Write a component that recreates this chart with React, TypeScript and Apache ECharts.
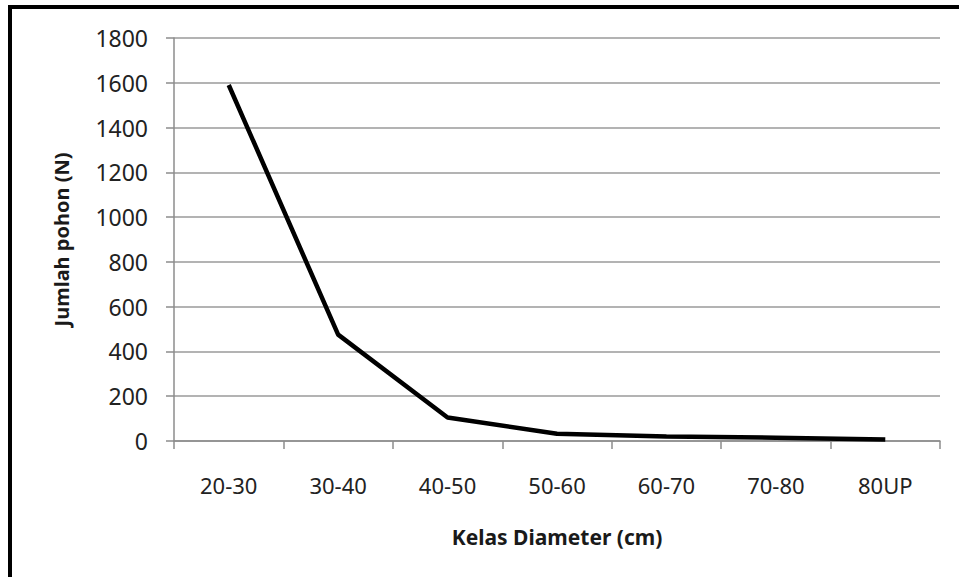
import React, { useEffect, useRef } from "react";
import * as echarts from "echarts";

const categories = ["20-30", "30-40", "40-50", "50-60", "60-70", "70-80", "80UP"];
const treeCounts = [1590, 475, 105, 32, 20, 15, 7];
const yTicks = { min: 0, max: 1800, interval: 200 };
const xTitle = "Kelas Diameter (cm)";
const yTitle = "Jumlah pohon (N)";

export default function App() {
  const ref = useRef<HTMLDivElement>(null);
  useEffect(() => {
    const chart = echarts.init(ref.current!, null, { renderer: "svg" });
    const font = "'Noto Sans', 'Open Sans', sans-serif";
    chart.setOption({
      animation: false,
      backgroundColor: "#ffffff",
      grid: { left: 174, right: 19, top: 38, bottom: 136, containLabel: false },
      xAxis: {
        type: "category",
        data: categories,
        boundaryGap: true,
        name: xTitle,
        nameLocation: "middle",
        nameGap: 85,
        nameTextStyle: { fontFamily: font, fontSize: 21, fontWeight: "bold", color: "#1a1a1a" },
        axisLine: { show: true, lineStyle: { color: "#8c8c8c", width: 1.5 } },
        axisTick: { show: true, length: 8, lineStyle: { color: "#8c8c8c", width: 1.5 } },
        axisLabel: { margin: 33, fontFamily: font, fontSize: 22, color: "#222" },
        splitLine: { show: false },
      },
      yAxis: {
        type: "value",
        min: yTicks.min,
        max: yTicks.max,
        interval: yTicks.interval,
        name: yTitle,
        nameLocation: "middle",
        nameGap: 103,
        nameRotate: 90,
        nameTextStyle: { fontFamily: font, fontSize: 20, fontWeight: "bold", color: "#1a1a1a" },
        axisLine: { show: true, lineStyle: { color: "#8c8c8c", width: 1.5 } },
        axisTick: { show: true, length: 8, lineStyle: { color: "#8c8c8c", width: 1.5 } },
        axisLabel: {
          margin: 26,
          fontFamily: font,
          fontSize: 23,
          color: "#222",
          formatter: (v: number) => String(v),
        },
        splitLine: { show: true, lineStyle: { color: "#9a9a9a", width: 1.5 } },
      },
      graphic: [
        { type: "rect", shape: { x: 8, y: 5, width: 4, height: 572 }, style: { fill: "#000" }, z: 100 },
        { type: "rect", shape: { x: 8, y: 5, width: 951, height: 4 }, style: { fill: "#000" }, z: 100 },
      ],
      series: [
        {
          type: "line",
          data: treeCounts,
          showSymbol: false,
          symbol: "none",
          lineStyle: { color: "#000", width: 4.5 },
        },
      ],
    });
    return () => chart.dispose();
  }, []);
  return (
    <div
      ref={ref}
      style={{ position: "absolute", left: 0, top: 0, width: 959, height: 577, background: "#fff" }}
    />
  );
}
